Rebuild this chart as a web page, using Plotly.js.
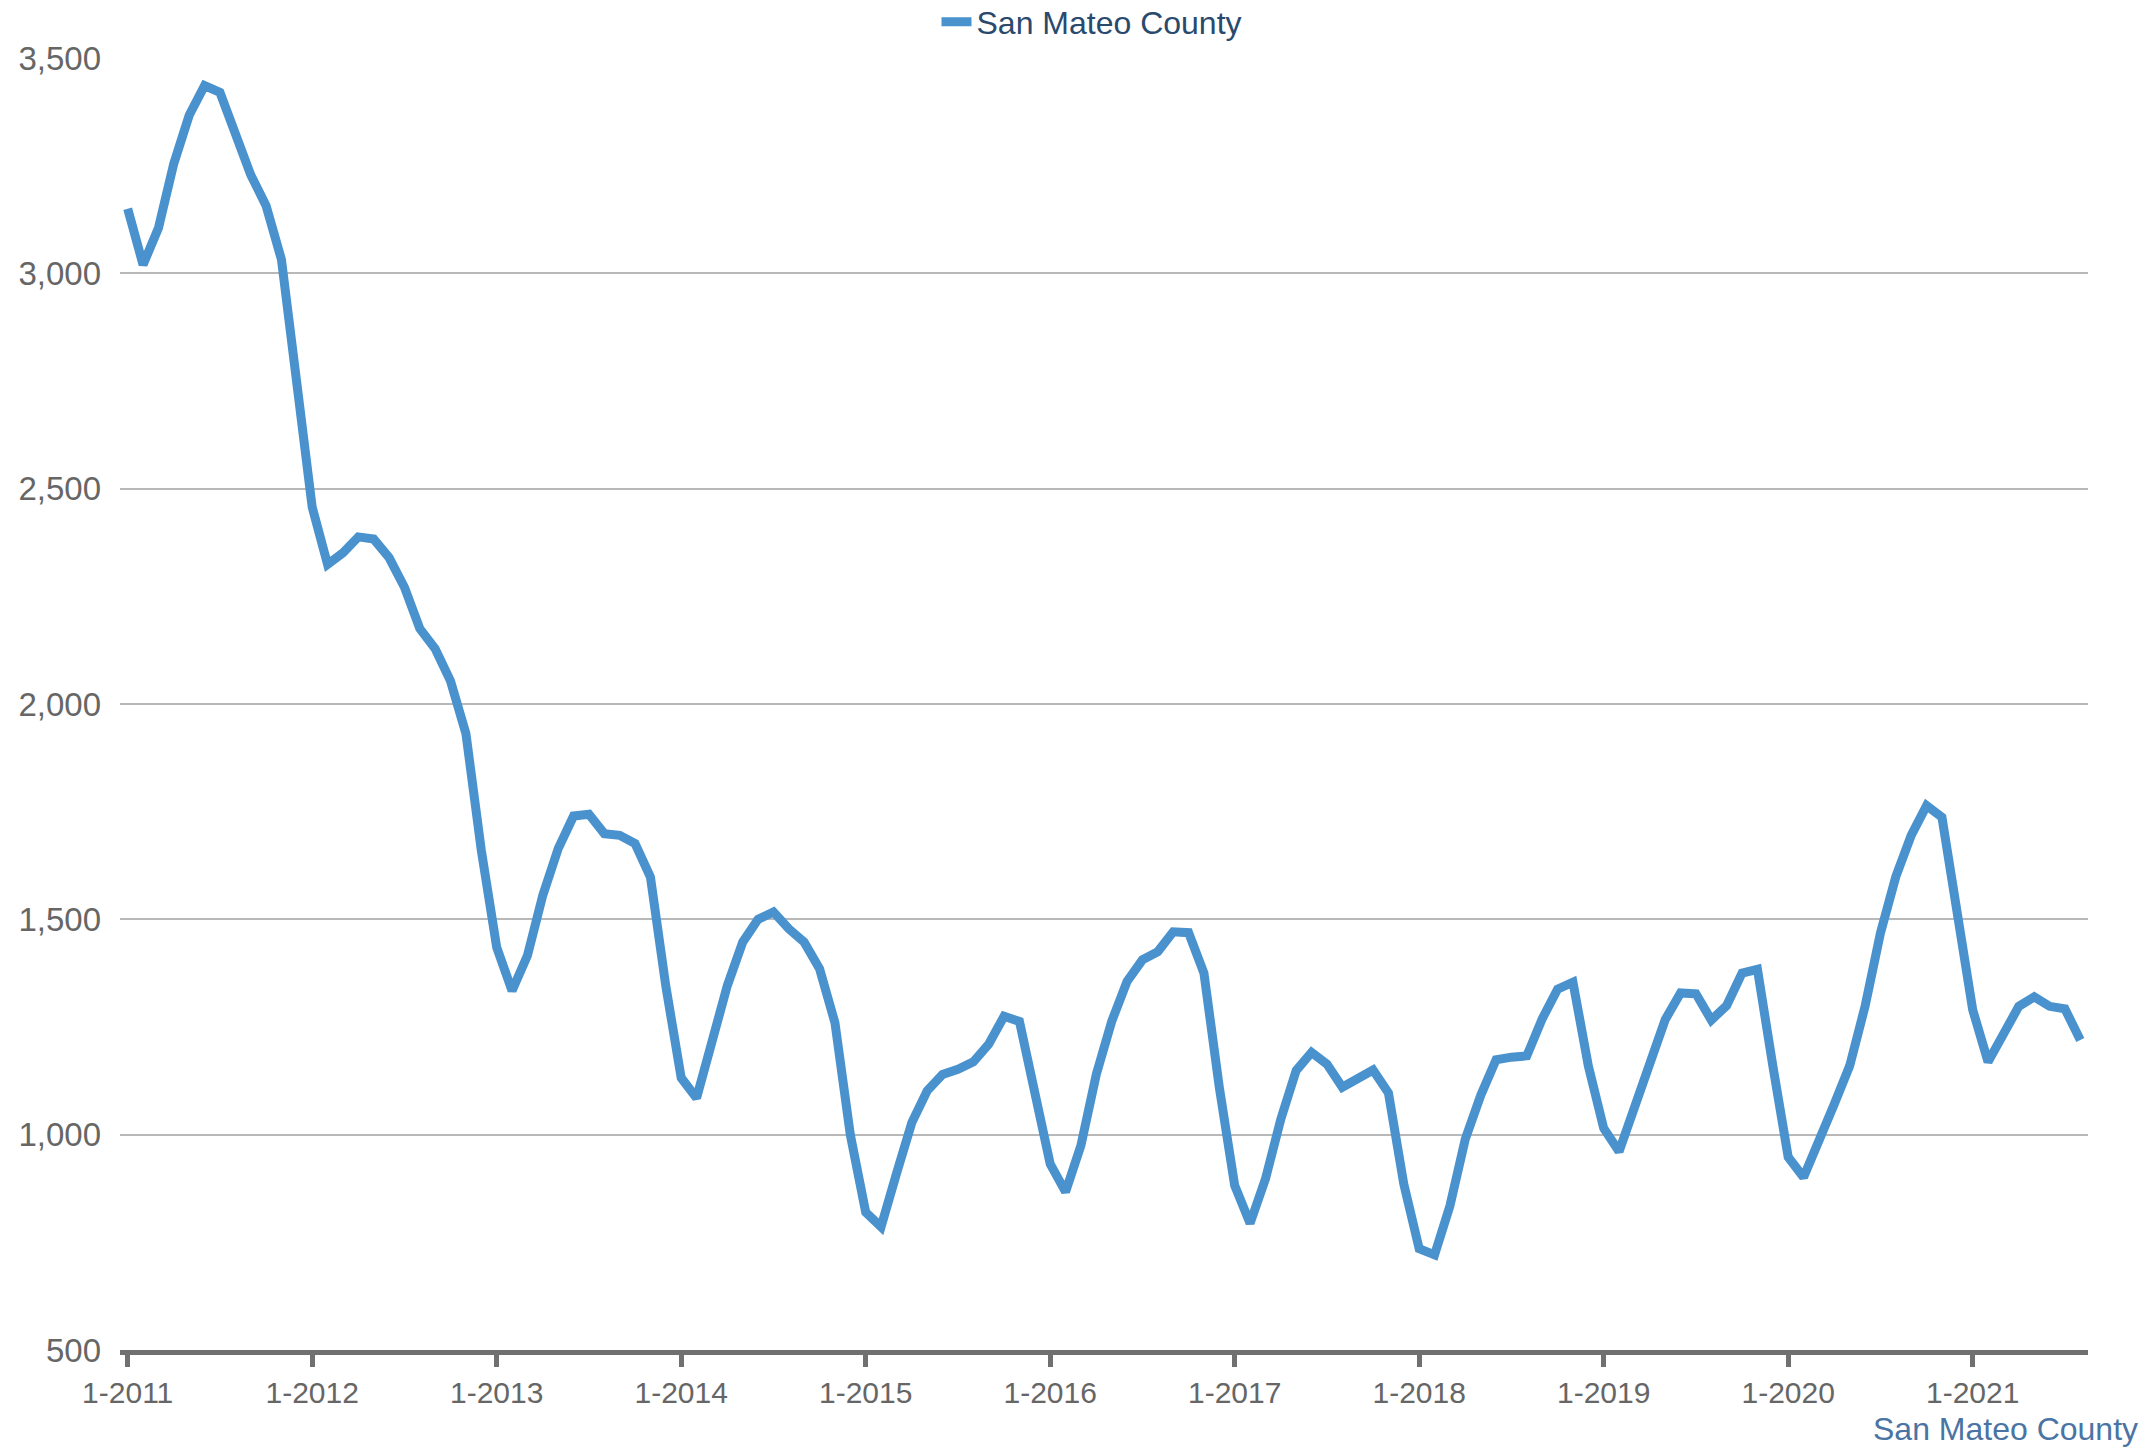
<!DOCTYPE html>
<html>
<head>
<meta charset="utf-8">
<script src="https://cdn.plot.ly/plotly-3.0.1.min.js"></script>
<style>
  html, body { margin: 0; padding: 0; background: #ffffff; }
  #chart { width: 2154px; height: 1449px; }
</style>
</head>
<body>
<div id="chart"></div>
<script>
// Monthly values, Jan 2011 .. Aug 2021 (San Mateo County)
const years = [2011, 2012, 2013, 2014, 2015, 2016, 2017, 2018, 2019, 2020, 2021];
const values2011 = [3150, 3020, 3105, 3255, 3367, 3436, 3420, 3319, 3229, 3157, 3032, 2745];
const values2012 = [2457, 2324, 2351, 2388, 2383, 2340, 2271, 2175, 2128, 2053, 1931, 1660];
const values2013 = [1435, 1334, 1416, 1556, 1664, 1740, 1744, 1699, 1695, 1676, 1598, 1345];
const values2014 = [1132, 1085, 1214, 1346, 1447, 1500, 1517, 1478, 1447, 1385, 1260, 1000];
const values2015 = [820, 786, 909, 1028, 1102, 1140, 1152, 1169, 1210, 1275, 1263, 1100];
const values2016 = [932, 867, 975, 1140, 1263, 1356, 1406, 1425, 1471, 1469, 1375, 1110];
const values2017 = [882, 794, 897, 1036, 1149, 1191, 1164, 1110, 1133, 1150, 1097, 885];
const values2018 = [735, 721, 835, 990, 1091, 1174, 1180, 1183, 1269, 1338, 1354, 1160];
const values2019 = [1015, 961, 1063, 1163, 1267, 1329, 1327, 1266, 1300, 1375, 1384, 1160];
const values2020 = [948, 901, 982, 1071, 1160, 1298, 1468, 1599, 1695, 1764, 1737, 1520];
const values2021 = [1290, 1169, 1233, 1298, 1320, 1298, 1292, 1220];

const seriesName = "San Mateo County";
const yTickVals = [500, 1000, 1500, 2000, 2500, 3000, 3500];
const xTickLabels = ["1-2011", "1-2012", "1-2013", "1-2014", "1-2015", "1-2016",
                     "1-2017", "1-2018", "1-2019", "1-2020", "1-2021"];

const yearly = [values2011, values2012, values2013, values2014, values2015, values2016,
                values2017, values2018, values2019, values2020, values2021];
const categories = [];
const values = [];
yearly.forEach((arr, i) => {
  arr.forEach((v, m) => {
    categories.push((m + 1) + "-" + years[i]);
    values.push(v);
  });
});

const trace = {
  type: "scatter",
  mode: "lines",
  x: categories,
  y: values,
  name: seriesName,
  line: { color: "#4a92cd", width: 9, shape: "linear" },
  hoverinfo: "x+y"
};

const W = 2154, H = 1449;
const L = 120, R = 66, T = 58, B = 99;
const plotW = W - L - R, plotH = H - T - B;

const layout = {
  width: W, height: H,
  margin: { l: L, r: R, t: T, b: B, pad: 0, autoexpand: false },
  paper_bgcolor: "#ffffff",
  plot_bgcolor: "#ffffff",
  font: { family: "Liberation Sans, Arial, sans-serif", color: "#666666" },
  showlegend: true,
  legend: {
    orientation: "h",
    xref: "paper", yref: "paper",
    x: (1092 - L) / plotW, xanchor: "center",
    y: 1 + (T - 22) / plotH, yanchor: "middle",
    font: { size: 32, color: "#2a4a6d" },
    bgcolor: "rgba(0,0,0,0)"
  },
  xaxis: {
    type: "category",
    range: [-0.5, categories.length - 0.5],
    tickmode: "array",
    tickvals: xTickLabels,
    ticktext: xTickLabels,
    ticks: "outside",
    ticklen: 12,
    tickwidth: 5,
    tickcolor: "#707070",
    showline: true,
    linecolor: "#707070",
    linewidth: 5,
    showgrid: false,
    zeroline: false,
    tickfont: { size: 30, color: "#666666" },
    fixedrange: true
  },
  yaxis: {
    range: [500, 3500],
    tickmode: "array",
    tickvals: yTickVals,
    ticktext: yTickVals.map(v => v.toLocaleString("en-US")),
    ticks: "",
    showline: false,
    showgrid: true,
    gridcolor: "#b8b8b8",
    gridwidth: 2,
    zeroline: false,
    tickfont: { size: 33, color: "#666666" },
    ticklabelstandoff: 18,
    fixedrange: true
  },
  annotations: [{
    text: seriesName,
    xref: "paper", yref: "paper",
    x: (2140 - L) / plotW, xanchor: "right",
    y: -(1429 - (H - B)) / plotH, yanchor: "middle",
    showarrow: false,
    font: { size: 32, color: "#4a74a3" }
  }]
};

Plotly.newPlot("chart", [trace], layout, { displayModeBar: false, staticPlot: true });
</script>
</body>
</html>
